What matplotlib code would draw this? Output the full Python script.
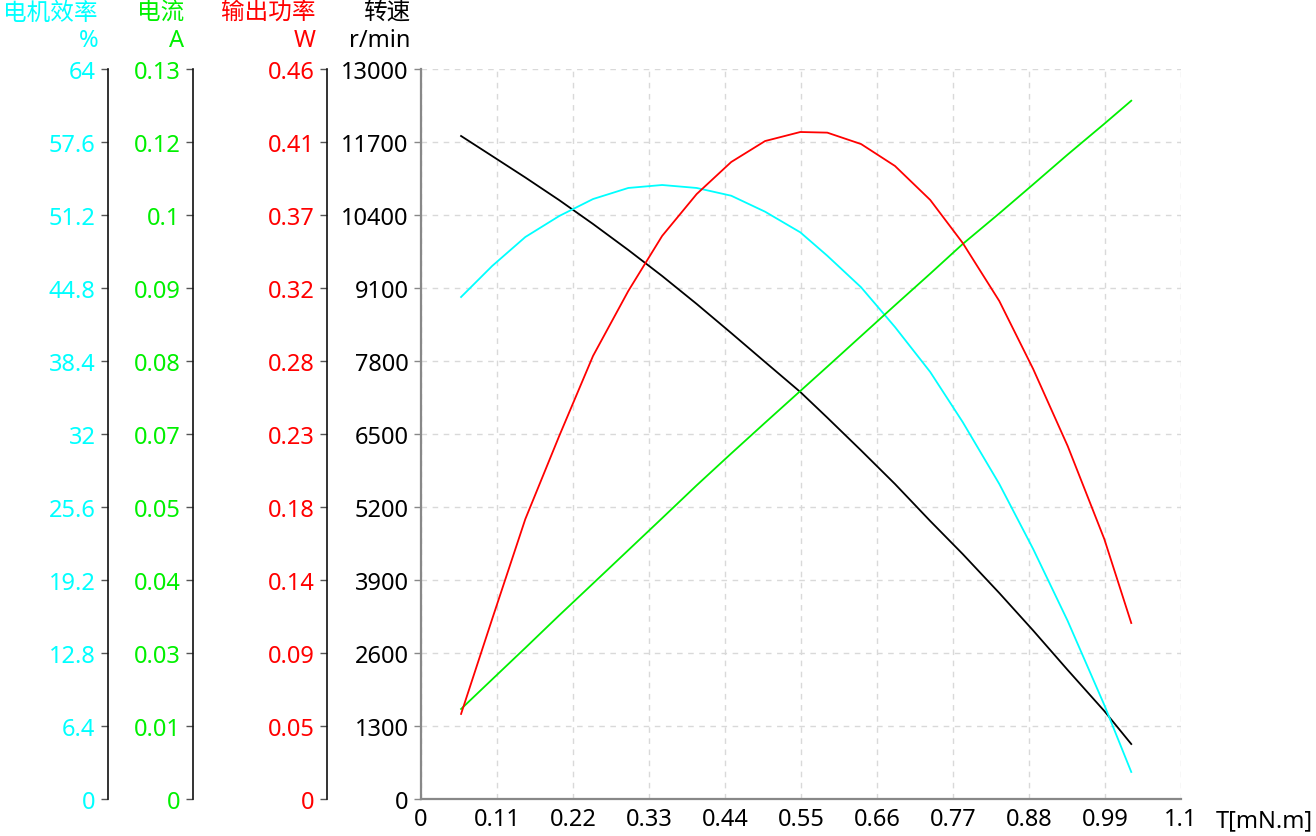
import matplotlib
matplotlib.use("Agg")
import matplotlib.pyplot as plt
import numpy as np

plt.rcParams['font.family'] = ['Noto Sans', 'Noto Sans CJK SC', 'DejaVu Sans']

# Data
torque = [0.058, 0.103, 0.151, 0.200, 0.249, 0.300, 0.349, 0.399, 0.449, 0.498,
          0.549, 0.588, 0.637, 0.686, 0.737, 0.784, 0.837, 0.886, 0.936, 0.989, 1.028]
speed = [11807, 11450, 11068, 10665, 10240, 9777, 9314, 8816, 8298, 7782,
         7248, 6792, 6207, 5610, 4951, 4363, 3668, 3001, 2297, 1567, 979]
current = [0.01603, 0.02130, 0.02691, 0.03270, 0.03838, 0.04431, 0.05001, 0.05586,
           0.06153, 0.06701, 0.07266, 0.07698, 0.08245, 0.08792, 0.09355, 0.09883,
           0.10428, 0.10945, 0.11477, 0.12024, 0.12435]
power = [0.0536, 0.1134, 0.1764, 0.2287, 0.2792, 0.3201, 0.3548, 0.3812, 0.4014,
         0.4146, 0.4203, 0.4199, 0.4127, 0.3989, 0.3775, 0.3504, 0.3138, 0.2710,
         0.2224, 0.1638, 0.1109]
efficiency = [44.01, 46.73, 49.27, 51.11, 52.60, 53.57, 53.83, 53.57, 52.89, 51.49,
              49.68, 47.63, 44.86, 41.38, 37.44, 33.05, 27.62, 21.92, 15.61, 8.24, 2.37]

x_ticks = [0, 0.11, 0.22, 0.33, 0.44, 0.55, 0.66, 0.77, 0.88, 0.99, 1.1]
x_labels = ["0", "0.11", "0.22", "0.33", "0.44", "0.55", "0.66", "0.77", "0.88", "0.99", "1.1"]
speed_max, current_max, power_max, eff_max = 13000, 0.13, 0.46, 64
speed_labels = ["0", "1300", "2600", "3900", "5200", "6500", "7800", "9100", "10400", "11700", "13000"]
current_labels = ["0", "0.01", "0.03", "0.04", "0.05", "0.07", "0.08", "0.09", "0.1", "0.12", "0.13"]
power_labels = ["0", "0.05", "0.09", "0.14", "0.18", "0.23", "0.28", "0.32", "0.37", "0.41", "0.46"]
eff_labels = ["0", "6.4", "12.8", "19.2", "25.6", "32", "38.4", "44.8", "51.2", "57.6", "64"]

CYAN = "#00FFFF"
GREEN = "#00F000"
RED = "#FF0000"
BLACK = "#000000"

W, H = 1316, 837
fig = plt.figure(figsize=(W / 100, H / 100), dpi=100)
L, R, T, B = 421, 1181, 70, 800
ax = fig.add_axes([L / W, 1 - B / H, (R - L) / W, (B - T) / H])

FS = 17

ax.set_xlim(0, 1.1)
ax.set_ylim(0, speed_max)
ax.set_xticks(x_ticks)
ax.set_xticklabels(x_labels, fontsize=FS)
ax.set_yticks(np.linspace(0, speed_max, 11))
ax.set_yticklabels(speed_labels, fontsize=FS)
ax.tick_params(axis='x', length=0, pad=6)
ax.tick_params(axis='y', length=5, width=1, color='#888888', pad=4)
ax.grid(True, color='#d9d9d9', linestyle=(0, (4, 4)), linewidth=1)
for s in ['top', 'right']:
    ax.spines[s].set_visible(False)
for s in ['left', 'bottom']:
    ax.spines[s].set_color('#888888')
    ax.spines[s].set_linewidth(1.6)
ax.plot(torque, speed, color=BLACK, lw=1.3, zorder=5)


def make_axis(offset_px, ymax, labels, color, data):
    a = ax.twinx()
    a.set_ylim(0, ymax)
    a.spines['right'].set_visible(False)
    a.spines['top'].set_visible(False)
    a.spines['bottom'].set_visible(False)
    a.spines['left'].set_visible(True)
    a.spines['left'].set_position(('axes', (offset_px - L) / (R - L)))
    a.spines['left'].set_color('#111111')
    a.spines['left'].set_linewidth(1.2)
    a.yaxis.set_ticks_position('left')
    a.set_yticks(np.linspace(0, ymax, 11))
    a.set_yticklabels(labels, fontsize=FS, color=color)
    a.tick_params(axis='y', length=5, width=1, color='#555555', pad=4)
    a.plot(torque, data, color=color, lw=1.3)
    return a


make_axis(108, eff_max, eff_labels, CYAN, efficiency)
make_axis(193, current_max, current_labels, GREEN, current)
make_axis(327, power_max, power_labels, RED, power)


def ftext(x, y, s, color):
    fig.text(x / W, 1 - y / H, s, color=color, fontsize=FS, ha='right', va='center')


ftext(98, 14, "电机效率", CYAN)
ftext(98, 41, "%", CYAN)
ftext(184, 14, "电流", GREEN)
ftext(184, 41, "A", GREEN)
ftext(316, 14, "输出功率", RED)
ftext(316, 41, "W", RED)
ftext(410, 14, "转速", BLACK)
ftext(410, 41, "r/min", BLACK)

fig.text(1216 / W, 1 - 821 / H, "T[mN.m]", fontsize=FS, ha='left', va='center')

fig.savefig("out.png", dpi=100)
